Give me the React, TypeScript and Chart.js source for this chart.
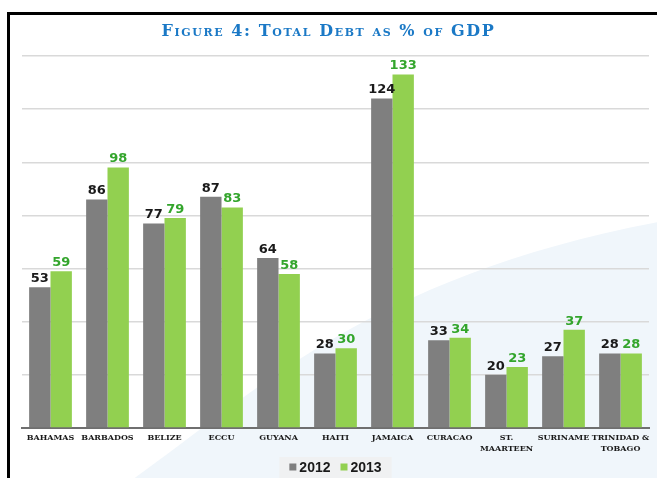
import React, { useEffect, useRef } from "react";
import { Chart, registerables } from "chart.js";

Chart.register(...registerables);

const categories: (string | string[])[] = [
  "BAHAMAS",
  "BARBADOS",
  "BELIZE",
  "ECCU",
  "GUYANA",
  "HAITI",
  "JAMAICA",
  "CURACAO",
  ["ST.", "MAARTEEN"],
  "SURINAME",
  ["TRINIDAD &", "TOBAGO"],
];
const values2012 = [53, 86, 77, 87, 64, 28, 124, 33, 20, 27, 28];
const values2013 = [59, 98, 79, 83, 58, 30, 133, 34, 23, 37, 28];
const seriesNames = ["2012", "2013"];
const titleText = "Figure 4: Total Debt as % of GDP";

const GRAY = "#7f7f7f";
const GREEN = "#92d050";
const LABEL_COLORS = ["#1a1a1a", "#33a52c"];

const backgroundPlugin = {
  id: "bgSwoosh",
  beforeDraw(chart: any) {
    const ctx = chart.ctx;
    const w = chart.width;
    const h = chart.height;
    ctx.save();
    ctx.fillStyle = "#ffffff";
    ctx.fillRect(0, 0, w, h);
    ctx.fillStyle = "#f0f6fb";
    ctx.beginPath();
    ctx.moveTo(w * 0.205, h);
    ctx.bezierCurveTo(w * 0.38, h * 0.83, w * 0.56, h * 0.58, w, h * 0.465);
    ctx.lineTo(w, h);
    ctx.closePath();
    ctx.fill();
    ctx.restore();
  },
};

const legendPlugin = {
  id: "customLegend",
  afterDraw(chart: any) {
    const ctx = chart.ctx;
    const area = chart.chartArea;
    const cy = 467;
    const box = 7;
    const gapBoxText = 3;
    const gapItems = 10;
    ctx.save();
    ctx.font = "bold 14px 'Liberation Sans', Arial, sans-serif";
    ctx.textBaseline = "middle";
    const items = chart.data.datasets.map((ds: any) => ({
      label: ds.label,
      color: ds.backgroundColor,
      w: ctx.measureText(ds.label).width,
    }));
    let total = 0;
    items.forEach((it: any, i: number) => {
      total += box + gapBoxText + it.w + (i < items.length - 1 ? gapItems : 0);
    });
    const cx = (area.left + area.right) / 2;
    let x = cx - total / 2;
    ctx.fillStyle = "#f0f1f2";
    ctx.fillRect(x - 10, cy - 10, total + 20, chart.height - (cy - 10));
    items.forEach((it: any) => {
      ctx.fillStyle = it.color;
      ctx.fillRect(x, cy - box / 2, box, box);
      x += box + gapBoxText;
      ctx.fillStyle = "#1a1a1a";
      ctx.textAlign = "left";
      ctx.fillText(it.label, x, cy + 1);
      x += it.w + gapItems;
    });
    ctx.restore();
  },
};

const valueLabelPlugin = {
  id: "valueLabels",
  afterDatasetsDraw(chart: any) {
    const ctx = chart.ctx;
    ctx.save();
    ctx.font = "bold 13px 'DejaVu Sans', sans-serif";
    ctx.textAlign = "center";
    ctx.textBaseline = "bottom";
    chart.data.datasets.forEach((ds: any, di: number) => {
      const meta = chart.getDatasetMeta(di);
      ctx.fillStyle = LABEL_COLORS[di];
      meta.data.forEach((bar: any, i: number) => {
        ctx.fillText(String(ds.data[i]), bar.x, bar.y - 2);
      });
    });
    ctx.restore();
  },
};

export default function App() {
  const canvasRef = useRef<HTMLCanvasElement | null>(null);

  useEffect(() => {
    document.body.style.margin = "0";
    const canvas = canvasRef.current;
    if (!canvas) return;
    const chart = new Chart(canvas, {
      type: "bar",
      data: {
        labels: categories,
        datasets: [
          {
            label: seriesNames[0],
            data: values2012,
            backgroundColor: GRAY,
            borderWidth: 0,
            categoryPercentage: 0.75,
            barPercentage: 1,
          },
          {
            label: seriesNames[1],
            data: values2013,
            backgroundColor: GREEN,
            borderWidth: 0,
            categoryPercentage: 0.75,
            barPercentage: 1,
          },
        ],
      },
      options: {
        responsive: false,
        animation: false,
        devicePixelRatio: 1,
        layout: { padding: { left: 22, right: 8, top: 56, bottom: 0 } },
        plugins: {
          title: { display: false },
          tooltip: { enabled: false },
          legend: { display: false },
        },
        scales: {
          x: {
            grid: { display: false, drawTicks: false },
            border: { display: true, color: "#6f6f6f", width: 2 },
            ticks: {
              color: "#1a1a1a",
              padding: 5,
              maxRotation: 0,
              autoSkip: false,
              font: { family: "'DejaVu Serif', serif", size: 8, weight: "bold", lineHeight: 1.35 },
            },
            afterFit(scale: any) {
              scale.height = 50;
            },
          },
          y: {
            min: 0,
            max: 140,
            ticks: { display: false, stepSize: 20 },
            border: { display: false },
            grid: { color: "#d9d9d9", lineWidth: 1.5, drawTicks: false },
            afterFit(scale: any) {
              scale.width = 0;
            },
          },
        },
      },
      plugins: [backgroundPlugin, valueLabelPlugin, legendPlugin],
    } as any);
    return () => chart.destroy();
  }, []);

  return (
    <div style={{ position: "relative", width: 657, height: 478, overflow: "hidden", background: "#fff" }}>
      <canvas ref={canvasRef} width={657} height={478} style={{ position: "absolute", left: 0, top: 0 }} />
      <div
        style={{
          position: "absolute",
          left: 7,
          top: 12,
          width: 700,
          height: 500,
          borderLeft: "3px solid #000",
          borderTop: "3px solid #000",
          boxSizing: "border-box",
          pointerEvents: "none",
        }}
      />
      <div
        style={{
          position: "absolute",
          left: 0,
          top: 21,
          width: 657,
          textAlign: "center",
          fontFamily: "'DejaVu Serif', serif",
          fontWeight: "bold",
          fontVariant: "small-caps",
          fontSize: 16,
          letterSpacing: "1.6px",
          color: "#1b79c6",
          lineHeight: "20px",
        }}
      >
        {titleText}
      </div>
    </div>
  );
}
